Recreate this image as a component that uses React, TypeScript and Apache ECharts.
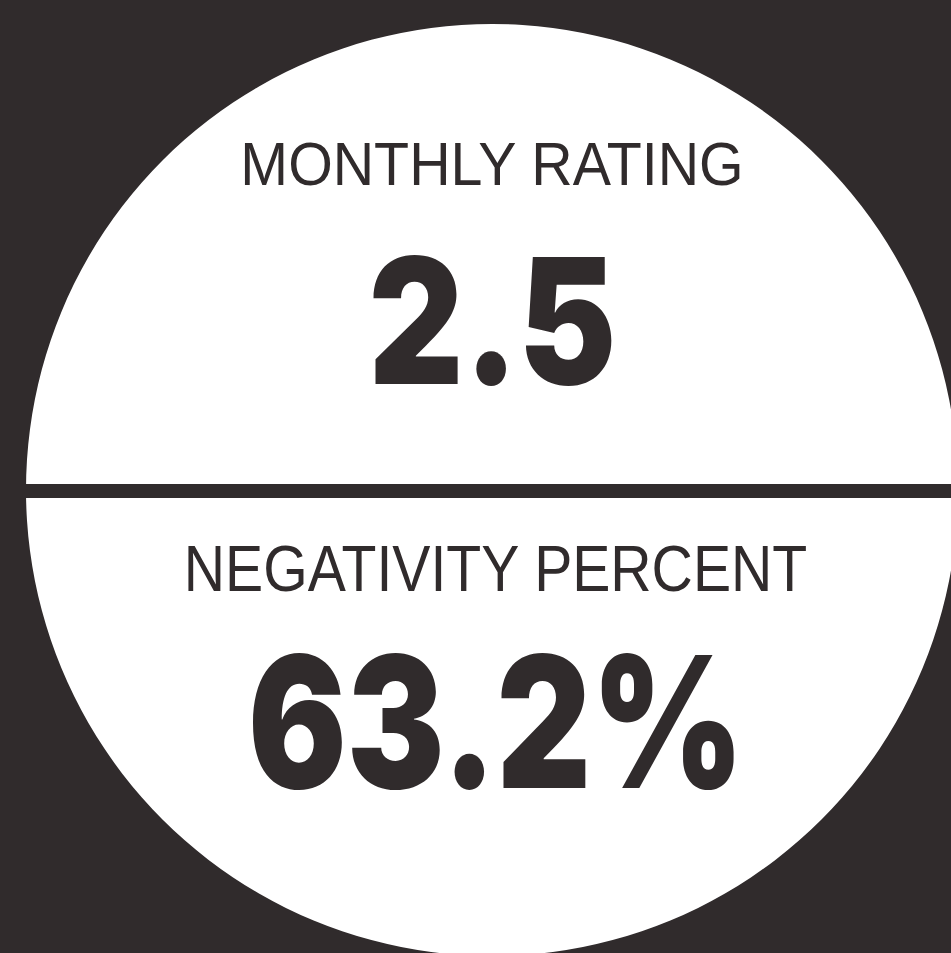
import React, { useEffect, useRef } from "react";
import * as echarts from "echarts";

// Data
const metricLabels: string[] = ["MONTHLY RATING", "NEGATIVITY PERCENT"];
const metricValues: number[] = [2.5, 63.2];
const metricSuffix: string[] = ["", "%"];

const DARK = "#302b2c";
const WHITE = "#ffffff";
const FONT = "'Liberation Sans', Arial, Helvetica, sans-serif";
const NUM_FONT = "Inter, 'Liberation Sans', Arial, sans-serif";

export default function App() {
  const ref = useRef<HTMLDivElement | null>(null);

  useEffect(() => {
    document.body.style.margin = "0";
    document.body.style.background = DARK;
    if (!ref.current) return;
    const chart = echarts.init(ref.current, null, { renderer: "svg" });

    const cx = 492;
    const cy = 490;
    const r = 466;

    const labelLayout = [
      { y: 164, fontSize: 61, scaleX: 0.94, x: 492 },
      { y: 569, fontSize: 64, scaleX: 0.893, x: 495.5 },
    ];
    const valueLayout = [
      { y: 320, fontSize: 175, scaleX: 0.84, x: 492.5 },
      { y: 721, fontSize: 183, scaleX: 0.8, x: 496 },
    ];

    const texts: any[] = [];
    metricLabels.forEach((lab, i) => {
      const L = labelLayout[i];
      texts.push({
        type: "text",
        x: L.x,
        y: L.y,
        scaleX: L.scaleX,
        style: {
          text: lab,
          x: 0,
          y: 0,
          align: "center",
          verticalAlign: "middle",
          fontFamily: FONT,
          fontSize: L.fontSize,
          fontWeight: "normal",
          fill: DARK,
        },
      });
      const V = valueLayout[i];
      texts.push({
        type: "text",
        x: V.x,
        y: V.y,
        scaleX: V.scaleX,
        style: {
          text: `${metricValues[i].toFixed(1)}${metricSuffix[i]}`,
          x: 0,
          y: 0,
          align: "center",
          verticalAlign: "middle",
          fontFamily: NUM_FONT,
          fontSize: V.fontSize,
          fontWeight: 900,
          fill: DARK,
        },
      });
    });

    chart.setOption({
      animation: false,
      backgroundColor: DARK,
      graphic: [
        {
          type: "circle",
          shape: { cx, cy, r },
          style: { fill: WHITE },
        },
        {
          type: "rect",
          shape: { x: 0, y: 484, width: 951, height: 14 },
          style: { fill: DARK },
        },
        ...texts,
      ],
    });

    return () => {
      chart.dispose();
    };
  }, []);

  return (
    <div
      ref={ref}
      style={{ position: "absolute", left: 0, top: 0, width: 951, height: 953 }}
    />
  );
}
